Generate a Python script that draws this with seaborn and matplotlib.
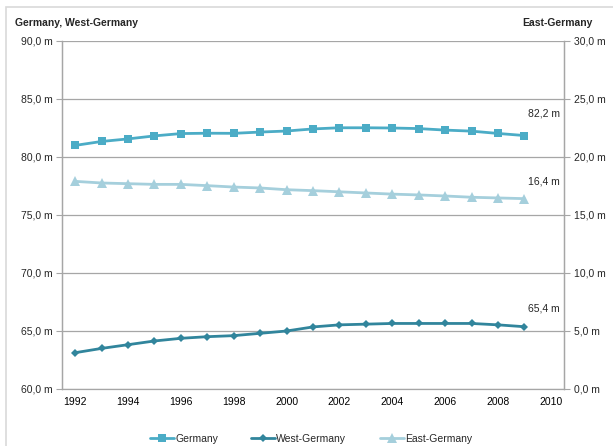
import matplotlib
matplotlib.use("Agg")
import matplotlib.pyplot as plt
import matplotlib.ticker as mticker
from matplotlib.lines import Line2D
from matplotlib.patches import Rectangle
import seaborn as sns
import pandas as pd

years = list(range(1992, 2010))
axis_years = list(range(1992, 2011, 2))
germany = [81.0, 81.34, 81.56, 81.82, 82.02, 82.05, 82.04, 82.15, 82.24, 82.42,
           82.52, 82.52, 82.50, 82.45, 82.32, 82.23, 82.03, 81.85]
west = [63.13, 63.5, 63.82, 64.14, 64.37, 64.51, 64.6, 64.8, 65.0, 65.35,
        65.53, 65.59, 65.65, 65.65, 65.65, 65.65, 65.53, 65.37]
east = [17.9, 17.76, 17.7, 17.64, 17.64, 17.53, 17.41, 17.33, 17.18, 17.1,
        17.0, 16.9, 16.8, 16.73, 16.64, 16.53, 16.47, 16.41]
end_labels = {"Germany": 82.2, "West-Germany": 65.4, "East-Germany": 16.4}

c_ger = "#4BACC6"
c_west = "#31859C"
c_east = "#A5CFDC"
grid_c = "#A6A6A6"

sns.set_theme(style="white")
plt.rcParams["font.family"] = ["Liberation Sans", "DejaVu Sans"]
plt.rcParams["font.size"] = 7.5

df = pd.DataFrame({"pos": range(len(years)), "year": years,
                   "Germany": germany, "West-Germany": west, "East-Germany": east})

fig = plt.figure(figsize=(6.13, 4.46), dpi=100)
ax = fig.add_axes([62 / 613, 1 - 389 / 446, (564 - 62) / 613, (389 - 41) / 446])
ax2 = ax.twinx()

sns.lineplot(data=df, x="pos", y="Germany", ax=ax, color=c_ger, marker="s",
             markersize=6, linewidth=2.0, markeredgewidth=0, zorder=4)
sns.lineplot(data=df, x="pos", y="West-Germany", ax=ax, color=c_west, marker="D",
             markersize=4.5, linewidth=2.0, markeredgewidth=0, zorder=4)
sns.lineplot(data=df, x="pos", y="East-Germany", ax=ax2, color=c_east, marker="^",
             markersize=6.5, linewidth=2.0, markeredgewidth=0, zorder=4)

ax.set_ylim(60, 90)
ax2.set_ylim(0, 30)
ax.set_xlim(-0.5, len(axis_years) * 2 - 1.5)
ax.set_yticks(range(60, 91, 5))
ax2.set_yticks(range(0, 31, 5))
ax.yaxis.set_major_formatter(mticker.FuncFormatter(lambda v, p: f"{v:.1f}".replace(".", ",") + " m"))
ax2.yaxis.set_major_formatter(mticker.FuncFormatter(lambda v, p: f"{v:.1f}".replace(".", ",") + " m"))

# category axis: labels centred on every second year, tick marks between categories
ax.set_xticks([2 * i for i in range(len(axis_years))])
ax.set_xticklabels([str(y) for y in axis_years])
ax.set_xticks([i - 0.5 for i in range(len(axis_years) * 2)], minor=True)
ax.tick_params(axis="x", which="major", length=0, pad=6, labelsize=7.5, colors="#000000")
ax.tick_params(axis="x", which="minor", length=4, width=0.8, color=grid_c, direction="out")
ax.tick_params(axis="y", length=4, width=0.8, color=grid_c, direction="out", pad=3, labelsize=7.5)
ax2.tick_params(axis="y", length=4, width=0.8, color=grid_c, direction="out", pad=3, labelsize=7.5)

ax.yaxis.grid(True, color=grid_c, linewidth=0.9)
ax.xaxis.grid(False)
ax.set_xlabel("")
ax.set_ylabel("")
ax2.set_ylabel("")
for a in (ax, ax2):
    a.spines["top"].set_visible(False)
    for s in ("left", "right", "bottom"):
        a.spines[s].set_color(grid_c)
        a.spines[s].set_linewidth(0.9)
ax2.spines["bottom"].set_visible(False)

last = len(years) - 1
ax.annotate("82,2 m", (last, end_labels["Germany"]), xytext=(14, 9), textcoords="offset points",
            ha="center", va="bottom", fontsize=7.5)
ax.annotate("65,4 m", (last, end_labels["West-Germany"]), xytext=(14, 9), textcoords="offset points",
            ha="center", va="bottom", fontsize=7.5)
ax2.annotate("16,4 m", (last, end_labels["East-Germany"]), xytext=(14, 9), textcoords="offset points",
             ha="center", va="bottom", fontsize=7.5)

fig.text(15 / 613, 1 - 23 / 446, "Germany, West-Germany", fontsize=7.5, fontweight="bold",
         ha="left", va="center")
fig.text(593 / 613, 1 - 23 / 446, "East-Germany", fontsize=7.5, fontweight="bold",
         ha="right", va="center")

handles = [
    Line2D([], [], color=c_ger, marker="s", markersize=6, linewidth=2.0, markeredgewidth=0),
    Line2D([], [], color=c_west, marker="D", markersize=4.5, linewidth=2.0, markeredgewidth=0),
    Line2D([], [], color=c_east, marker="^", markersize=6.5, linewidth=2.0, markeredgewidth=0),
]
fig.legend(handles, ["Germany", "West-Germany", "East-Germany"], loc="center",
           bbox_to_anchor=(311 / 613, 1 - 439 / 446), ncol=3, frameon=False,
           fontsize=7.5, handlelength=2.3, handletextpad=0.1, columnspacing=3.2)

fig.add_artist(Rectangle((6 / 613, -0.1), 1.2, 1 - 7 / 446 + 0.1, transform=fig.transFigure,
                         fill=False, edgecolor="#D9D9D9", linewidth=1.2))

fig.savefig("out.png", dpi=100)
